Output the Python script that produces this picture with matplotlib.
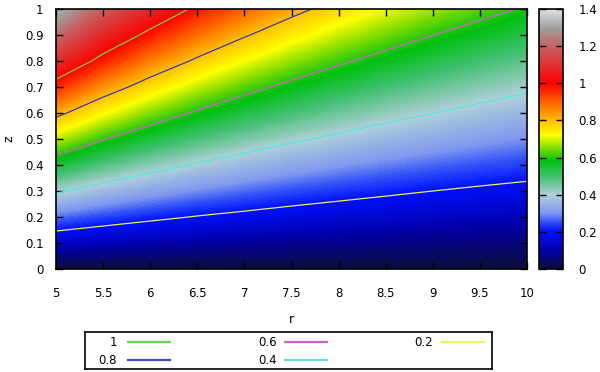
import numpy as np
import matplotlib
matplotlib.use("Agg")
import matplotlib.pyplot as plt
from matplotlib.colors import LinearSegmentedColormap

# ---- data ----
r_vals = [5.0, 5.5, 6.0, 6.5, 7.0, 7.5, 8.0, 8.5, 9.0, 9.5, 10.0]
z_vals = [0.0, 0.1, 0.2, 0.3, 0.4, 0.5, 0.6, 0.7, 0.8, 0.9, 1.0]
field = [
    [0.000, 0.000, 0.000, 0.000, 0.000, 0.000, 0.000, 0.000, 0.000, 0.000, 0.000],
    [0.137, 0.121, 0.108, 0.098, 0.090, 0.083, 0.077, 0.071, 0.067, 0.063, 0.059],
    [0.274, 0.242, 0.217, 0.196, 0.180, 0.165, 0.153, 0.143, 0.134, 0.125, 0.118],
    [0.411, 0.363, 0.325, 0.295, 0.269, 0.248, 0.230, 0.214, 0.200, 0.188, 0.178],
    [0.548, 0.484, 0.434, 0.393, 0.359, 0.330, 0.306, 0.285, 0.267, 0.251, 0.237],
    [0.685, 0.605, 0.542, 0.491, 0.449, 0.413, 0.383, 0.357, 0.334, 0.314, 0.296],
    [0.822, 0.726, 0.651, 0.589, 0.539, 0.496, 0.459, 0.428, 0.401, 0.376, 0.355],
    [0.959, 0.847, 0.759, 0.687, 0.628, 0.578, 0.536, 0.499, 0.467, 0.439, 0.414],
    [1.096, 0.969, 0.868, 0.786, 0.718, 0.661, 0.613, 0.571, 0.534, 0.502, 0.473],
    [1.220, 1.080, 0.976, 0.884, 0.808, 0.744, 0.689, 0.642, 0.601, 0.565, 0.533],
    [1.340, 1.190, 1.080, 0.982, 0.898, 0.826, 0.766, 0.713, 0.668, 0.627, 0.592],
]
contour_levels = [0.2, 0.4, 0.6, 0.8, 1.0]
contour_colors = ["#f0f060", "#50e8e0", "#d060d0", "#3838b0", "#80d040"]
legend_colors = ["#f0f060", "#60e0e0", "#d060d0", "#4848c0", "#60d850"]
legend_labels = ["0.2", "0.4", "0.6", "0.8", "1"]
x_ticks = [5, 5.5, 6, 6.5, 7, 7.5, 8, 8.5, 9, 9.5, 10]
y_ticks = [0, 0.1, 0.2, 0.3, 0.4, 0.5, 0.6, 0.7, 0.8, 0.9, 1]
cb_ticks = [0, 0.2, 0.4, 0.6, 0.8, 1.0, 1.2, 1.4]

# ---- colormap ----
stops = [
    (0.00, "#0c0c3c"), (0.10, "#0000a8"), (0.20, "#0010ff"), (0.25, "#3050f8"),
    (0.30, "#8098f0"), (0.40, "#b0d0d8"), (0.50, "#40c070"), (0.58, "#00c010"),
    (0.65, "#80dc00"), (0.72, "#ffff00"), (0.80, "#ffc000"), (0.90, "#ff6000"),
    (1.00, "#ff0000"), (1.10, "#e03030"), (1.20, "#c86060"), (1.30, "#a0a0a0"),
    (1.40, "#e0e0e0"),
]
vmax = 1.4
cmap = LinearSegmentedColormap.from_list("gp", [(v / vmax, c) for v, c in stops])

plt.rcParams["font.family"] = ["DejaVu Sans"]
fs = 8.5

fig = plt.figure(figsize=(6.0, 3.72), dpi=100)
W, H = 600.0, 372.0
ax = fig.add_axes([56 / W, (H - 269) / H, (527 - 56) / W, 260 / H])

R = np.array(r_vals)
Z = np.array(z_vals)
V = np.array(field)
dr = (R[1] - R[0]) / 2
dz = (Z[1] - Z[0]) / 2
im = ax.imshow(V, origin="lower", extent=[R[0] - dr, R[-1] + dr, Z[0] - dz, Z[-1] + dz],
               aspect="auto", cmap=cmap, vmin=0, vmax=vmax,
               interpolation="bilinear", interpolation_stage="data")
ax.contour(R, Z, V, levels=contour_levels, colors=contour_colors, linewidths=0.9)
ax.set_xlim(5, 10)
ax.set_ylim(0, 1)
ax.set_xticks(x_ticks)
ax.set_xticklabels([f"{t:g}" for t in x_ticks], fontsize=fs)
ax.set_yticks(y_ticks)
ax.set_yticklabels([f"{t:g}" for t in y_ticks], fontsize=fs)
ax.tick_params(direction="in", top=True, right=True, length=5, width=1, pad=13, colors="black")
ax.tick_params(axis="y", pad=9)
for s in ax.spines.values():
    s.set_linewidth(1.2)
ax.set_xlabel("r", fontsize=fs + 0.5, labelpad=9)
ax.set_ylabel("z", fontsize=fs + 0.5, labelpad=7)

cax = fig.add_axes([539 / W, (H - 269) / H, 24 / W, 260 / H])
cb = fig.colorbar(im, cax=cax, ticks=cb_ticks)
cb.ax.set_yticklabels([f"{t:g}" for t in cb_ticks], fontsize=fs)
cb.ax.tick_params(direction="in", left=True, right=True, length=5, width=1, pad=11)
cb.outline.set_linewidth(1.2)

# ---- legend box ----
lax = fig.add_axes([85 / W, (H - 369) / H, (492 - 85) / W, (369 - 332) / H])
lax.set_xlim(85, 492)
lax.set_ylim(369, 332)
lax.set_xticks([])
lax.set_yticks([])
for s in lax.spines.values():
    s.set_linewidth(1.2)
text_right = [117, 277, 433]
line_start = [128, 285, 442]
line_len = 42
rows = [342, 360]
order = [4, 3, 2, 1, 0]  # 1, 0.8, 0.6, 0.4, 0.2 (column major, 2 rows)
for k, idx in enumerate(order):
    col, row = divmod(k, 2)
    y = rows[row]
    lax.text(text_right[col], y, legend_labels[idx], ha="right", va="center", fontsize=fs)
    lax.plot([line_start[col], line_start[col] + line_len], [y, y],
             color=legend_colors[idx], lw=1.6)

fig.savefig("out.png", dpi=100)
